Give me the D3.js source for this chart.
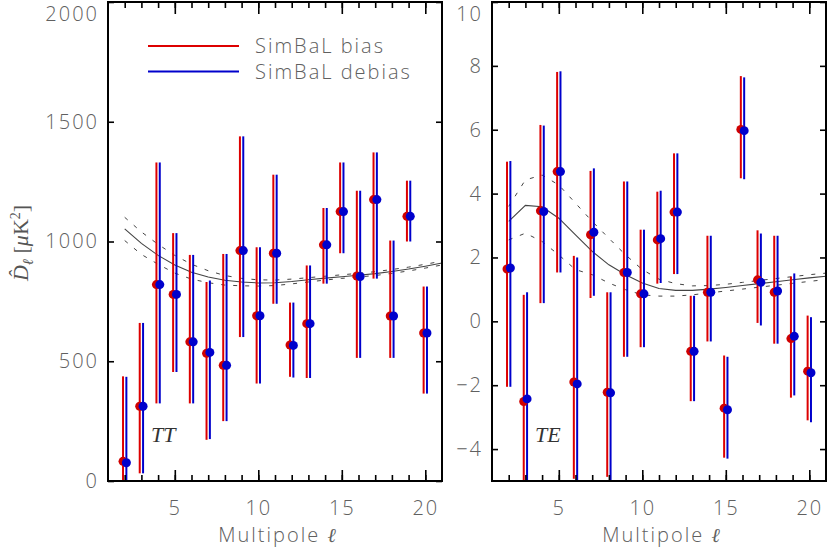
<!DOCTYPE html>
<html><head><meta charset="utf-8">
<script src="https://cdn.jsdelivr.net/npm/d3@7"></script>
<style>
body{margin:0;background:#fff;}
svg{display:block;}
.lbl{font-family:"Open Sans",sans-serif;font-weight:300;fill:#606060;letter-spacing:2px;}
</style></head><body>
<svg id="c" width="830" height="554"></svg>
<script>
// ---- data ----
const ells = d3.range(2, 21);            // multipoles 2..20
const theoryEll = d3.range(2, 22);       // 2..21

// TT (bias = red, debias = blue)
const ttBias      = [82, 312, 820, 779, 581, 533, 483, 962, 690, 951, 568, 657, 986, 1125, 856, 1175, 689, 1105, 618];
const ttBiasLo    = [-280, 32, 324, 455, 324, 172, 250, 601, 407, 740, 435, 430, 824, 951, 514, 845, 514, 1000, 365];
const ttBiasHi    = [437, 660, 1330, 1035, 944, 831, 948, 1439, 976, 1279, 745, 900, 1140, 1330, 1212, 1372, 1004, 1254, 812];
const ttDebias    = [76, 312, 820, 779, 581, 537, 483, 962, 690, 951, 566, 657, 986, 1125, 854, 1175, 689, 1105, 618];
const ttDebiasLo  = [-280, 32, 324, 455, 324, 175, 250, 601, 407, 740, 432, 430, 824, 951, 514, 845, 514, 1000, 365];
const ttDebiasHi  = [435, 660, 1330, 1035, 944, 837, 948, 1439, 976, 1279, 745, 900, 1140, 1330, 1212, 1372, 1004, 1254, 812];

const ttTheory    = [1053, 992, 942, 902, 872, 852, 838, 831, 827, 828, 833, 840, 847, 853, 859, 866, 875, 885, 897, 910];
const ttTheoryUp  = [1101, 1040, 988, 942, 905, 878, 858, 846, 840, 839, 843, 849, 855, 861, 867, 874, 883, 893, 905, 918];
const ttTheoryLo  = [1004, 946, 905, 868, 843, 828, 818, 815, 814, 816, 823, 831, 839, 846, 852, 858, 867, 877, 889, 902];

// TE
const teBias      = [1.64, -2.51, 3.46, 4.69, -1.90, 2.71, -2.22, 1.53, 0.86, 2.55, 3.42, -0.94, 0.91, -2.72, 6.01, 1.30, 0.91, -0.54, -1.56];
const teBiasLo    = [-2.05, -6.5, 0.57, 1.53, -4.93, 0.73, -4.87, -1.11, -0.81, 1.18, 1.48, -2.50, -0.63, -4.27, 4.48, -0.05, -0.70, -2.39, -3.10];
const teBiasHi    = [5.00, 0.83, 6.15, 7.81, 2.05, 4.71, 0.91, 4.38, 2.87, 4.06, 5.26, 0.80, 2.68, -1.07, 7.68, 2.85, 2.68, 1.40, 0.18];
const teDebias    = [1.67, -2.43, 3.44, 4.69, -1.96, 2.79, -2.24, 1.53, 0.86, 2.59, 3.42, -0.94, 0.91, -2.77, 5.97, 1.22, 0.95, -0.47, -1.61];
const teDebiasLo  = [-2.05, -6.5, 0.57, 1.53, -6.0, 0.80, -5.5, -1.11, -0.81, 1.20, 1.48, -2.50, -0.63, -4.30, 4.45, -0.13, -0.70, -2.32, -3.16];
const teDebiasHi  = [5.02, 0.91, 6.13, 7.83, 2.00, 4.79, 0.91, 4.38, 2.87, 4.09, 5.26, 0.80, 2.68, -1.11, 7.64, 2.75, 2.68, 1.50, 0.13];

const teTheory    = [3.13, 3.63, 3.59, 3.23, 2.71, 2.19, 1.77, 1.46, 1.20, 1.03, 0.97, 0.97, 1.01, 1.06, 1.12, 1.18, 1.24, 1.30, 1.36, 1.41];
const teTheoryUp  = [3.60, 4.43, 4.58, 4.27, 3.70, 3.13, 2.60, 2.08, 1.62, 1.32, 1.18, 1.11, 1.12, 1.16, 1.22, 1.28, 1.34, 1.40, 1.46, 1.51];
const teTheoryLo  = [2.55, 2.76, 2.50, 2.08, 1.62, 1.46, 1.20, 0.99, 0.83, 0.79, 0.79, 0.83, 0.89, 0.95, 1.01, 1.07, 1.13, 1.19, 1.25, 1.31];

const ttYTicks = [0, 500, 1000, 1500, 2000];
const teYTicks = [-4, -2, 0, 2, 4, 6, 8, 10];
const xMajor = [5, 10, 15, 20];
const legendLabels = ["SimBaL bias", "SimBaL debias"];
const RED = "#dd0000", BLUE = "#0000cc";

// ---- drawing ----
const svg = d3.select("#c");

function panel(opt){
  const x = d3.scaleLinear().domain([1, 21]).range([opt.x0, opt.x1]);
  const y = d3.scaleLinear().domain(opt.ydom).range([481, opt.ytop]);
  const g = svg.append("g");
  const cid = "clip" + opt.id;
  svg.append("defs").append("clipPath").attr("id", cid)
    .append("rect").attr("x", opt.x0).attr("y", opt.ytop).attr("width", opt.x1 - opt.x0).attr("height", 481 - opt.ytop);
  const pg = g.append("g").attr("clip-path", `url(#${cid})`);

  // theory curves
  const line = arr => d3.line().x((d, i) => x(theoryEll[i])).y(d => y(d))(arr);
  pg.append("path").attr("d", line(opt.th)).attr("fill", "none").attr("stroke", "#444").attr("stroke-width", 1.1);
  [opt.thUp, opt.thLo].forEach(a => pg.append("path").attr("d", line(a)).attr("fill", "none")
    .attr("stroke", "#444").attr("stroke-width", 1).attr("stroke-dasharray", "4,8"));

  // error bars
  const series = [
    {v: opt.b, lo: opt.bLo, hi: opt.bHi, c: RED, off: -0.1},
    {v: opt.d, lo: opt.dLo, hi: opt.dHi, c: BLUE, off: 0.1}
  ];
  series.forEach(s => {
    pg.selectAll(null).data(ells).enter().append("line")
      .attr("x1", (l) => x(l + s.off)).attr("x2", (l) => x(l + s.off))
      .attr("y1", (l, i) => y(s.lo[i])).attr("y2", (l, i) => y(s.hi[i]))
      .attr("stroke", s.c).attr("stroke-width", 2);
  });
  series.forEach(s => {
    pg.selectAll(null).data(ells).enter().append("circle")
      .attr("cx", (l) => x(l + s.off)).attr("cy", (l, i) => y(s.v[i]))
      .attr("r", 4.5).attr("fill", s.c === RED ? "#d00000" : "#0000cc");
  });

  // axes
  const styleAx = sel => { sel.select(".domain").remove(); sel.selectAll("line").attr("stroke", "#000").attr("stroke-width", 1.6); };
  g.append("g").attr("transform", "translate(0,481)")
    .call(d3.axisBottom(x).tickValues(d3.range(2, 21)).tickSize(-6).tickFormat("")).call(styleAx);
  const xb = g.append("g").attr("transform", "translate(0,481)")
    .call(d3.axisBottom(x).tickValues(xMajor).tickSize(-11).tickPadding(20).tickFormat(d3.format("d"))).call(styleAx);
  xb.selectAll("text").attr("class", "lbl").style("font-size", "20px").attr("dy", "0.35em").attr("y", 27);
  g.append("g").attr("transform", `translate(0,${opt.ytop})`)
    .call(d3.axisTop(x).tickValues(d3.range(2, 21)).tickSize(-6).tickFormat("")).call(styleAx);
  g.append("g").attr("transform", `translate(0,${opt.ytop})`)
    .call(d3.axisTop(x).tickValues(xMajor).tickSize(-12).tickFormat("")).call(styleAx);

  const ymax = opt.ydom[1];
  const yl = g.append("g").attr("transform", `translate(${opt.x0},0)`)
    .call(d3.axisLeft(y).tickValues(opt.yticks).tickSize(-6).tickPadding(10)
      .tickFormat(d => d < 0 ? "\u2212" + Math.abs(d) : d)).call(styleAx);
  yl.selectAll("text").attr("class", "lbl").style("font-size", "20px").attr("x", -9)
    .attr("y", d => d === ymax ? 12 : 0);
  g.append("g").attr("transform", `translate(${opt.x1},0)`)
    .call(d3.axisRight(y).tickValues(opt.yticks).tickSize(-6).tickFormat("")).call(styleAx);

  g.append("rect").attr("x", opt.x0).attr("y", opt.ytop).attr("width", opt.x1 - opt.x0).attr("height", 481 - opt.ytop)
    .attr("fill", "none").attr("stroke", "#000").attr("stroke-width", 2);

  g.append("text").attr("class", "lbl").attr("x", (opt.x0 + opt.x1) / 2 + 2).attr("y", 542)
    .attr("text-anchor", "middle").style("font-size", "20px")
    .html('Multipole <tspan style="font-family:\'DejaVu Serif\',serif;font-style:italic;letter-spacing:0">ℓ</tspan>');

  g.append("text").attr("x", opt.tagX).attr("y", 442)
    .style("font-family", "'Liberation Serif','DejaVu Serif',serif").style("font-style", "italic")
    .style("font-size", "22px").attr("fill", "#333").text(opt.tag);
  return {x, y};
}

panel({id: "tt", x0: 108, x1: 442, ydom: [0, 2000], ytop: 2, yticks: ttYTicks,
  b: ttBias, bLo: ttBiasLo, bHi: ttBiasHi, d: ttDebias, dLo: ttDebiasLo, dHi: ttDebiasHi,
  th: ttTheory, thUp: ttTheoryUp, thLo: ttTheoryLo, tag: "TT", tagX: 151});
panel({id: "te", x0: 492, x1: 826, ydom: [-5, 10], ytop: 2, yticks: teYTicks,
  b: teBias, bLo: teBiasLo, bHi: teBiasHi, d: teDebias, dLo: teDebiasLo, dHi: teDebiasHi,
  th: teTheory, thUp: teTheoryUp, thLo: teTheoryLo, tag: "TE", tagX: 535});

// legend
legendLabels.forEach((t, i) => {
  const yy = 46 + i * 25.5;
  svg.append("line").attr("x1", 148).attr("x2", 239).attr("y1", yy).attr("y2", yy)
    .attr("stroke", i === 0 ? RED : BLUE).attr("stroke-width", 2);
  svg.append("text").attr("class", "lbl").attr("x", 255).attr("y", yy + 7).style("font-size", "20px").text(t);
});

// y-axis label
svg.append("text").attr("transform", "translate(28,243) rotate(-90)").attr("text-anchor", "middle")
  .style("font-family", "'Liberation Serif','DejaVu Serif',serif").style("font-size", "22px").attr("fill", "#555")
  .html('<tspan font-style="italic">D\u0302</tspan><tspan font-style="italic" font-size="15px" dy="5">ℓ</tspan><tspan dy="-5"> [</tspan><tspan font-style="italic">μ</tspan><tspan>K</tspan><tspan font-size="14px" dy="-8">2</tspan><tspan dy="8">]</tspan>');
</script>
</body></html>
